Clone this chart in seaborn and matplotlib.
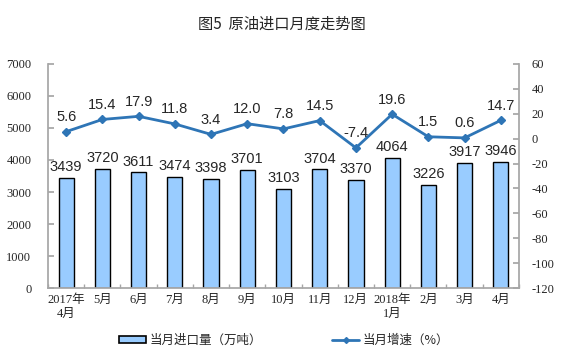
import numpy as np
import matplotlib
matplotlib.use("Agg")
import matplotlib.pyplot as plt
import seaborn as sns
import pandas as pd
from matplotlib.patches import Patch
from matplotlib.lines import Line2D

sns.set_theme(style="white")
plt.rcParams['font.family'] = ['Liberation Serif', 'Noto Sans CJK SC', 'DejaVu Sans']
plt.rcParams['axes.unicode_minus'] = False

months = ["2017年\n4月", "5月", "6月", "7月", "8月", "9月", "10月", "11月", "12月",
          "2018年\n1月", "2月", "3月", "4月"]
imports = [3439, 3720, 3611, 3474, 3398, 3701, 3103, 3704, 3370, 4064, 3226, 3917, 3946]
growth = [5.6, 15.4, 17.9, 11.8, 3.4, 12.0, 7.8, 14.5, -7.4, 19.6, 1.5, 0.6, 14.7]

df = pd.DataFrame({"month": months, "imports": imports, "growth": growth})

fig = plt.figure(figsize=(5.61, 3.57), dpi=100)
ax = fig.add_axes([0.0856, 0.193, 0.8394, 0.628])
ax2 = ax.twinx()

sns.barplot(data=df, x="month", y="imports", ax=ax, color="#99CCFF", saturation=1,
            width=0.42, edgecolor="black", linewidth=1.0)
x = np.arange(len(months))
ax2.plot(x, growth, color="#2E75B6", lw=2, marker="D", ms=4)

ax.set_ylim(0, 7000)
ax.set_yticks(range(0, 7001, 1000))
ax2.set_ylim(-120, 60)
ax2.set_yticks(range(-120, 61, 20))
ax.set_xlim(-0.5, len(months) - 0.5)
ax.set_xlabel("")
ax.set_ylabel("")

for i, v in enumerate(imports):
    ax.text(i, v + 120, str(v), ha="center", va="bottom", fontsize=10.5,
            family=["Liberation Sans", "DejaVu Sans"])
for i, v in enumerate(growth):
    ax2.text(i, v + 6, f"{v:.1f}", ha="center", va="bottom", fontsize=10.5,
             family=["Liberation Sans", "DejaVu Sans"])

for a in (ax, ax2):
    for s in a.spines.values():
        s.set_visible(False)
gray = "#A6A6A6"
ax.spines["left"].set_visible(True)
ax.spines["left"].set_color(gray)
ax.spines["bottom"].set_visible(True)
ax.spines["bottom"].set_color(gray)
ax2.spines["right"].set_visible(True)
ax2.spines["right"].set_color(gray)

ax.tick_params(axis="y", left=True, length=4, color=gray, labelsize=9, pad=12,
               direction="in")
ax2.tick_params(axis="y", right=True, length=4, color=gray, labelsize=9, pad=9,
                direction="in")
ax.set_xticks(x)
ax.set_xticks(np.arange(-0.5, len(months), 1), minor=True)
ax.tick_params(axis="x", which="major", length=0, labelsize=9, pad=4)
ax.tick_params(axis="x", which="minor", bottom=True, length=3, color=gray, direction="in")
ax.set_xticklabels(months, linespacing=1.3)

fig.suptitle("图5  原油进口月度走势图", x=0.503, y=0.955, fontsize=11,
             family=["Noto Sans CJK SC", "DejaVu Sans"])

handles = [Patch(facecolor="#99CCFF", edgecolor="black", linewidth=1.2),
           Line2D([0], [0], color="#2E75B6", lw=2, marker="D", ms=3)]
fig.legend(handles, ["当月进口量（万吨）", "当月增速（%）"], loc="center",
           bbox_to_anchor=(0.506, 0.047), ncol=2, frameon=False,
           columnspacing=5.6, handlelength=2.2, handleheight=0.45, handletextpad=0.25,
           prop={"family": ["Noto Sans CJK SC", "DejaVu Sans"], "size": 9})

fig.savefig("out.png", dpi=100)
